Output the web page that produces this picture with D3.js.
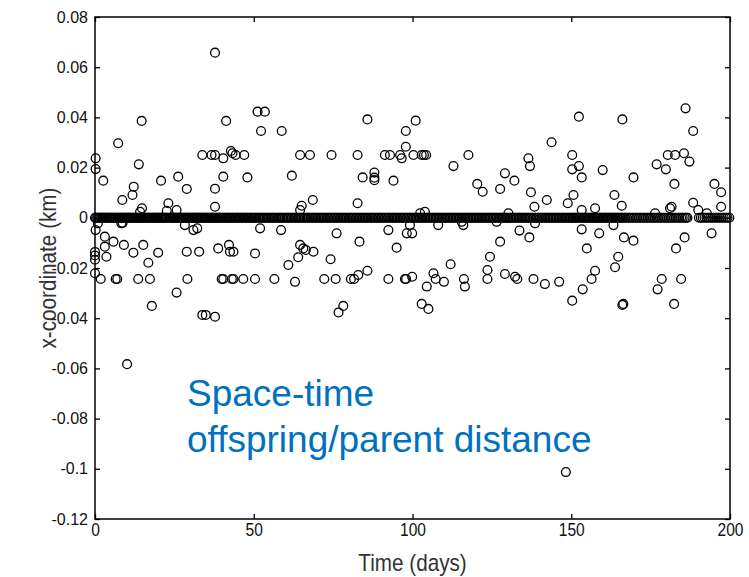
<!DOCTYPE html>
<html><head><meta charset="utf-8">
<script src="https://cdn.jsdelivr.net/npm/d3@7"></script>
<style>body{margin:0;background:#fff}svg{display:block}</style>
</head><body>
<svg id="c" width="749" height="577"></svg>
<script>
// Ticks
const xTicks = [0, 50, 100, 150, 200];
const yTicks = [0.08, 0.06, 0.04, 0.02, 0, -0.02, -0.04, -0.06, -0.08, -0.1, -0.12];

// Points lying on zero (time in days)
const zeroDays = [0,0.3,0.7,1,1.3,1.7,2,2.4,2.7,3,3.3,3.7,4,4.4,4.7,5,5.3,5.7,6,6.4,6.7,7,7.3,7.7,8,8.4,8.7,9,9.3,9.7,10,10.4,10.7,11,11.3,11.7,12,12.4,12.7,13,13.3,13.7,14,14.4,14.7,15,15.3,15.7,16,16.4,16.7,17,17.3,17.7,18,18.4,18.7,19,19.3,19.7,20,20.4,20.7,21,21.3,21.7,22,22.4,22.7,23.4,23.7,24,24.4,24.7,25,25.3,25.7,26,26.4,26.7,27,27.3,27.7,28,28.4,28.7,29,29.3,29.7,30,30.4,30.7,31,31.3,31.7,32,32.4,32.7,33,33.3,33.7,34,34.4,34.7,35,35.3,35.7,36,36.4,36.7,37,37.3,37.7,38,38.4,38.7,39,39.3,39.7,40.1,40.5,40.9,41.3,41.7,42.1,42.5,42.9,43.3,43.7,44.1,44.5,44.9,45.3,45.7,46.1,46.5,46.9,47.3,47.7,48.1,48.5,48.9,49.3,49.7,
50.1,50.5,50.9,51.4,51.8,52.2,52.7,53.1,53.5,54,54.4,54.8,55.3,55.8,56.2,56.6,57.1,57.6,58,58.4,58.9,59.3,59.8,60.3,60.7,61.1,61.6,62,62.5,63,63.4,63.9,64.3,64.7,65.2,65.7,66.1,66.6,67,67.4,67.9,68.4,68.8,69.3,69.7,70.2,70.7,71.1,71.6,72,72.5,73,73.4,73.9,74.3,74.8,75.3,75.7,76.2,76.6,77.1,77.6,78,78.5,78.9,79.4,79.9,80.3,80.8,81.2,81.7,82.2,82.6,83.1,83.5,84,84.5,84.9,85.4,85.8,86.3,86.8,87.2,87.7,88.1,88.6,89.1,89.5,90,90.4,90.9,91.4,91.8,92.3,92.7,93.2,93.7,94.1,94.6,95,95.5,96,96.4,96.9,97.3,97.8,98.3,98.7,99.2,99.6,
100.1,100.5,101,101.4,101.9,102.3,102.8,103.2,103.7,104.1,104.6,105,105.5,105.9,106.4,106.8,107.3,107.7,108.2,108.6,109.1,109.5,110,110.4,110.9,111.3,111.8,112.2,112.7,113.1,113.6,114,114.5,114.9,115.4,115.8,116.3,116.7,117.2,117.6,118.1,118.5,119,119.4,119.9,120.3,120.8,121.2,121.7,122.1,122.6,123,123.5,123.9,124.4,124.8,125.3,125.7,126.2,126.6,127.1,127.5,128,128.4,128.9,129.3,129.8,130.2,130.7,131.1,131.6,132,132.5,132.9,133.4,133.8,134.3,134.7,135.2,135.6,136.1,136.5,137,137.4,137.9,138.3,138.8,139.2,139.7,140.1,140.6,141,141.5,141.9,142.4,142.8,143.3,143.7,144.2,144.6,145.1,145.5,146,146.4,146.9,147.3,147.8,148.2,148.7,149.1,149.6,
150,150.4,150.8,151.2,151.6,152,152.4,152.8,153.2,153.6,154,154.4,154.8,155.2,155.6,156,156.4,156.8,157.2,157.6,158,158.4,158.8,159.2,159.6,160,160.4,160.8,161.2,161.6,162,162.4,162.8,163.2,163.6,164,164.4,164.8,165.2,165.6,166,
166.5,167,167.5,168.1,168.6,169.2,169.7,170.3,170.8,171.4,171.9,172.5,173,173.6,174.1,174.7,175.2,175.8,176.3,176.9,177.4,178,178.5,179.1,179.6,180.2,180.7,181.3,181.8,182.4,182.9,183.5,184,184.6,185.1,185.7,186.2,186.6,
190.2,190.8,191.4,192,192.6,193.2,193.8,194.4,195,195.6,196.2,196.8,197.4,198,198.6,199.2,199.8];

// Scattered points: time (days) and x-coordinate (km)
const scatterDays = [37.8,14.7,41.3,7.3,13.8,0.2,0.2,2.6,12.2,11.8,8.6,20.8,26.2,28.9,23.1,14.8,14.2,25.7,22.6,
33.8,36.7,37.8,40.4,42.8,43.3,44.3,47.0,
37.8,40.4,37.8,48.0,51.2,53.5,52.3,58.8,64.6,67.7,62.0,74.5,82.7,85.8,84.3,88.0,88.0,88.0,94.0,91.3,92.9,96.1,96.6,97.9,97.9,68.6,65.1,64.6,82.7,
101.0,100.3,102.9,103.6,104.3,112.9,117.6,120.4,122.1,127.6,129.1,132.1,136.5,137.0,137.3,138.4,142.3,143.8,148.9,150.7,150.3,150.3,152.4,153.3,152.4,153.3,157.5,159.9,163.6,165.9,166.1,169.6,176.9,179.8,180.4,182.7,182.5,186.0,188.4,185.5,187.2,181.6,188.4,190.0,195.1,197.2,197.2,192.7,
102.4,103.9,130.2,181.1,176.4,
8.3,0.9,99.2,108.1,115.5,116.0,126.5,138.6,
0.2,3.1,5.8,3.1,9.1,15.2,8.7,28.3,31.0,32.2,52.0,58.6,76.1,83.3,92.4,95.0,98.2,
0,0,0,0,1.8,3.6,6.5,7.0,12.1,13.6,17.3,16.8,19.9,17.9,25.7,28.9,32.8,29.1,33.8,34.9,37.8,38.8,42.2,42.5,43.6,39.9,40.4,43.1,43.6,46.7,50.4,50.4,56.5,63.0,60.9,64.0,64.6,65.6,66.4,68.8,74.2,72.2,75.8,78.2,76.7,80.6,81.6,82.9,85.8,92.4,97.6,
99.9,98.0,99.9,104.5,106.6,107.3,109.9,102.9,105.0,112.0,116.2,116.5,123.6,123.6,124.4,127.6,129.1,132.3,133.0,133.7,136.8,138.1,141.7,146.2,150.3,153.6,156.4,157.5,153.3,158.8,154.9,163.3,166.6,169.6,164.8,163.8,166.1,166.4,178.5,177.2,184.6,182.4,183.0,185.7,194.2,
10.1,148.3];
const scatterKm = [0.0658,0.0386,0.0386,0.0297,0.0213,0.0237,0.0194,0.0148,0.0124,0.0091,0.0071,0.0148,0.0164,0.0115,0.0058,0.0038,0.0024,0.0031,0.0028,
0.025,0.025,0.025,0.0237,0.0266,0.0257,0.025,0.025,
0.0116,0.0164,0.0044,0.0161,0.0423,0.0423,0.0346,0.0346,0.025,0.025,0.0168,0.025,0.025,0.0392,0.0161,0.018,0.016,0.015,0.0148,0.025,0.025,0.025,0.0237,0.0346,0.0283,0.0071,0.0048,0.0031,0.0058,
0.0387,0.025,0.025,0.025,0.025,0.0206,0.025,0.0135,0.0104,0.0115,0.0177,0.0148,0.0237,0.0206,0.0102,0.0044,0.0071,0.0301,0.0058,0.0091,0.025,0.0193,0.0206,0.0161,0.0403,0.0031,0.0038,0.019,0.0091,0.0048,0.0392,0.0161,0.0213,0.0193,0.025,0.025,0.0135,0.0436,0.0346,0.0257,0.0224,0.0044,0.006,0.0031,0.0135,0.0102,0.0044,0.0018,
0.0018,0.0024,0.0018,0.0038,0.0018,
-0.0022,-0.0022,-0.0029,-0.0029,-0.0016,-0.0029,-0.0016,-0.0022,
-0.0049,-0.0075,-0.0095,-0.0115,-0.0108,-0.0108,-0.002,-0.0029,-0.0049,-0.0042,-0.0042,-0.0049,-0.0062,-0.0095,-0.0049,-0.0119,-0.0062,
-0.0136,-0.015,-0.0167,-0.0221,-0.0244,-0.0155,-0.0244,-0.0244,-0.0139,-0.0244,-0.0244,-0.0179,-0.0139,-0.0351,-0.0298,-0.0135,-0.0135,-0.0244,-0.0387,-0.0387,-0.0394,-0.0122,-0.0108,-0.0135,-0.0135,-0.0244,-0.0244,-0.0244,-0.0244,-0.0244,-0.0244,-0.0142,-0.0244,-0.0255,-0.0188,-0.0157,-0.0108,-0.0122,-0.0128,-0.0135,-0.0165,-0.0244,-0.0244,-0.0351,-0.0377,-0.0244,-0.0244,-0.0228,-0.0211,-0.0244,-0.0244,
-0.0062,-0.0244,-0.0235,-0.0274,-0.0221,-0.0244,-0.0255,-0.0343,-0.0363,-0.0185,-0.0244,-0.0274,-0.0208,-0.0244,-0.0155,-0.0095,-0.0224,-0.0235,-0.0244,-0.0051,-0.0078,-0.0244,-0.0264,-0.0255,-0.033,-0.0285,-0.0244,-0.0211,-0.0046,-0.0062,-0.0122,-0.0029,-0.0078,-0.0091,-0.0155,-0.0197,-0.0347,-0.0343,-0.0244,-0.0285,-0.0244,-0.0343,-0.0122,-0.0078,-0.0062,
-0.0583,-0.1013];

const xLabel = "Time (days)";
const yLabel = "x-coordinate (km)";
const noteLines = ["Space-time", "offspring/parent distance"];

const svg = d3.select("#c");
const L = 95, R = 730, T = 17, B = 519;
const x = d3.scaleLinear().domain([0, 200]).range([L, R]);
const y = d3.scaleLinear().domain([-0.12, 0.08]).range([B, T]);

const pts = zeroDays.map(d => ({t: d, v: 0}))
  .concat(scatterDays.map((d, i) => ({t: d, v: scatterKm[i]})));

svg.append("g").selectAll("circle").data(pts).join("circle")
  .attr("cx", d => x(d.t)).attr("cy", d => y(d.v)).attr("r", 4.4)
  .attr("fill", "none").attr("stroke", "#000").attr("stroke-width", 1.3);

const fmt = v => String(+v.toFixed(2));
const tick = 5;

const ax = svg.append("g").attr("transform", `translate(0,${B})`)
  .call(d3.axisBottom(x).tickValues(xTicks).tickSize(-tick).tickSizeOuter(0).tickPadding(4).tickFormat(fmt));
ax.selectAll("text").attr("font-size", 19).attr("transform", "scale(0.82,1)");
svg.append("g").attr("transform", `translate(0,${T})`)
  .call(d3.axisTop(x).tickValues(xTicks).tickSize(-tick).tickSizeOuter(0).tickFormat(""));
const ay = svg.append("g").attr("transform", `translate(${L},0)`)
  .call(d3.axisLeft(y).tickValues(yTicks).tickSize(-tick).tickSizeOuter(0).tickPadding(7).tickFormat(fmt));
ay.selectAll("text").attr("font-size", 16);
svg.append("g").attr("transform", `translate(${R},0)`)
  .call(d3.axisRight(y).tickValues(yTicks).tickSize(-tick).tickSizeOuter(0).tickFormat(""));

svg.selectAll(".domain").remove();
svg.selectAll(".tick line").attr("stroke", "#000").attr("stroke-width", 1.3);
svg.selectAll(".tick text").attr("font-family", "Liberation Sans, Arial, sans-serif").attr("fill", "#111");

svg.append("rect").attr("x", L).attr("y", T).attr("width", R - L).attr("height", B - T)
  .attr("fill", "none").attr("stroke", "#000").attr("stroke-width", 1.5);

svg.append("text").attr("transform", `translate(${(L + R) / 2},571) scale(0.9,1)`).attr("text-anchor", "middle")
  .attr("font-family", "Liberation Sans, Arial, sans-serif").attr("font-size", 23).attr("fill", "#333").text(xLabel);
svg.append("text").attr("transform", `translate(56,${(T + B) / 2}) rotate(-90) scale(0.9,1)`).attr("text-anchor", "middle")
  .attr("font-family", "Liberation Sans, Arial, sans-serif").attr("font-size", 23).attr("fill", "#333").text(yLabel);

svg.append("g").selectAll("text").data(noteLines).join("text")
  .attr("x", 187).attr("y", (d, i) => 406 + i * 46)
  .attr("font-family", "Liberation Sans, Arial, sans-serif").attr("font-size", 37).attr("fill", "#0070C0")
  .text(d => d);
</script>
</body></html>
